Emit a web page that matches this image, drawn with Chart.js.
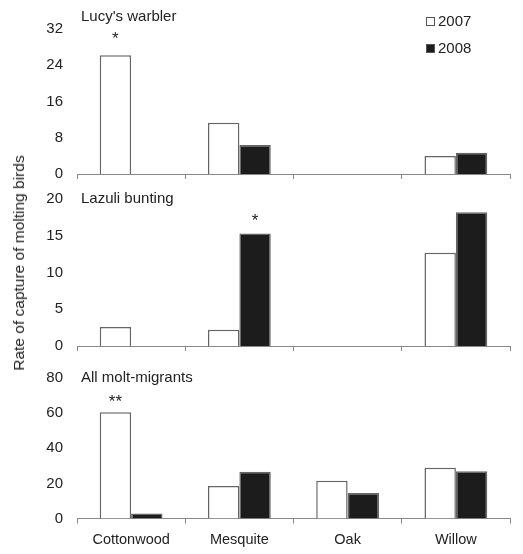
<!DOCTYPE html>
<html>
<head>
<meta charset="utf-8">
<script src="https://cdn.jsdelivr.net/npm/chart.js@4"></script>
<style>
  body { margin: 0; background: #fff; font-family: "Liberation Sans", Arial, sans-serif; color: #222; }
  #wrap { position: relative; width: 523px; height: 554px; overflow: hidden; }
  canvas { position: absolute; left: 0; }
  .box { position: absolute; left: 426px; width: 7px; height: 7px; border: 1px solid #555; }
  .lbl { position: absolute; left: 438px; font-size: 15px; line-height: 15px; }
  #ytitle { position: absolute; left: 19px; top: 263px; font-size: 15.5px; white-space: nowrap;
            transform: translate(-50%, -50%) rotate(-90deg); }
</style>
</head>
<body>
<div id="wrap">
  <canvas id="c1" width="523" height="197" style="top:0px"></canvas>
  <canvas id="c2" width="523" height="193" style="top:176px"></canvas>
  <canvas id="c3" width="523" height="202" style="top:355px"></canvas>
  <div class="box" style="top:17px;background:#fff"></div>
  <div class="lbl" style="top:13px">2007</div>
  <div class="box" style="top:44px;background:#1c1c1c"></div>
  <div class="lbl" style="top:40px">2008</div>
  <div id="ytitle">Rate of capture of molting birds</div>
</div>
<script>
// habitats and years
const habitats = ['Cottonwood', 'Mesquite', 'Oak', 'Willow'];
const years = ['2007', '2008'];

// Lucy's warbler
const lucy2007 = [26.2, 11.3, 0, 4.0];
const lucy2008 = [0, 6.4, 0, 4.7];
// Lazuli bunting
const lazuli2007 = [2.6, 2.2, 0, 12.7];
const lazuli2008 = [0, 15.3, 0, 18.2];
// All molt-migrants
const all2007 = [60.5, 18.6, 21.5, 28.9];
const all2008 = [2.9, 26.7, 14.5, 26.9];

// y axis ranges: [max, step]
const lucyTicks = [32, 8];
const lazuliTicks = [20, 5];
const allTicks = [80, 20];

const font = '"Liberation Sans", Arial, sans-serif';

// panel title + significance stars
const notes = {
  id: 'notes',
  afterDatasetsDraw(chart, args, opts) {
    const ctx = chart.ctx;
    const a = chart.chartArea;
    ctx.save();
    ctx.fillStyle = '#222';
    ctx.font = '15px ' + font;
    ctx.textBaseline = 'alphabetic';
    ctx.textAlign = 'left';
    ctx.fillText(opts.title, a.left + 4, a.top + opts.titleDy);
    ctx.textAlign = 'center';
    ctx.font = '17px ' + font;
    opts.marks.forEach(m => {
      const bar = chart.getDatasetMeta(m.ds).data[m.i];
      ctx.fillText(m.text, bar.x, bar.y - m.dy);
    });
    ctx.restore();
  }
};

function makePanel(id, d07, d08, ticks, showLabels, pad, note) {
  new Chart(document.getElementById(id), {
    type: 'bar',
    data: {
      labels: habitats,
      datasets: [
        { label: years[0], data: d07, backgroundColor: '#ffffff', borderColor: '#666', borderWidth: 1.5 },
        { label: years[1], data: d08, backgroundColor: '#1c1c1c', borderColor: '#666', borderWidth: 1.5 }
      ]
    },
    options: {
      responsive: false,
      animation: false,
      layout: { padding: pad },
      datasets: { bar: { categoryPercentage: 0.58, barPercentage: 1.0 } },
      plugins: {
        legend: { display: false },
        tooltip: { enabled: false },
        notes: note
      },
      scales: {
        x: {
          grid: { offset: true, drawOnChartArea: false, drawTicks: true, tickLength: 5, color: '#888', lineWidth: 1 },
          border: { display: true, color: '#888', width: 1 },
          ticks: { display: showLabels, padding: 8, color: '#222', font: { family: font, size: 14.5 } }
        },
        y: {
          min: 0,
          max: ticks[0],
          afterFit(scale) { scale.width = 77; },
          grid: { display: false, drawTicks: false },
          border: { display: false },
          ticks: { stepSize: ticks[1], padding: 14, color: '#222', font: { family: font, size: 15 } }
        }
      }
    },
    plugins: [notes]
  });
}

makePanel('c1', lucy2007, lucy2008, lucyTicks, false,
  { top: 29, bottom: 0, left: 0, right: 13 },
  { title: "Lucy's warbler", titleDy: -8, marks: [{ ds: 0, i: 0, text: '*', dy: 11 }] });

makePanel('c2', lazuli2007, lazuli2008, lazuliTicks, false,
  { top: 23, bottom: 0, left: 0, right: 13 },
  { title: 'Lazuli bunting', titleDy: 4, marks: [{ ds: 1, i: 1, text: '*', dy: 7.5 }] });

makePanel('c3', all2007, all2008, allTicks, true,
  { top: 23, bottom: 0, left: 0, right: 13 },
  { title: 'All molt-migrants', titleDy: 3.5, marks: [{ ds: 0, i: 0, text: '**', dy: 5 }] });
</script>
</body>
</html>
